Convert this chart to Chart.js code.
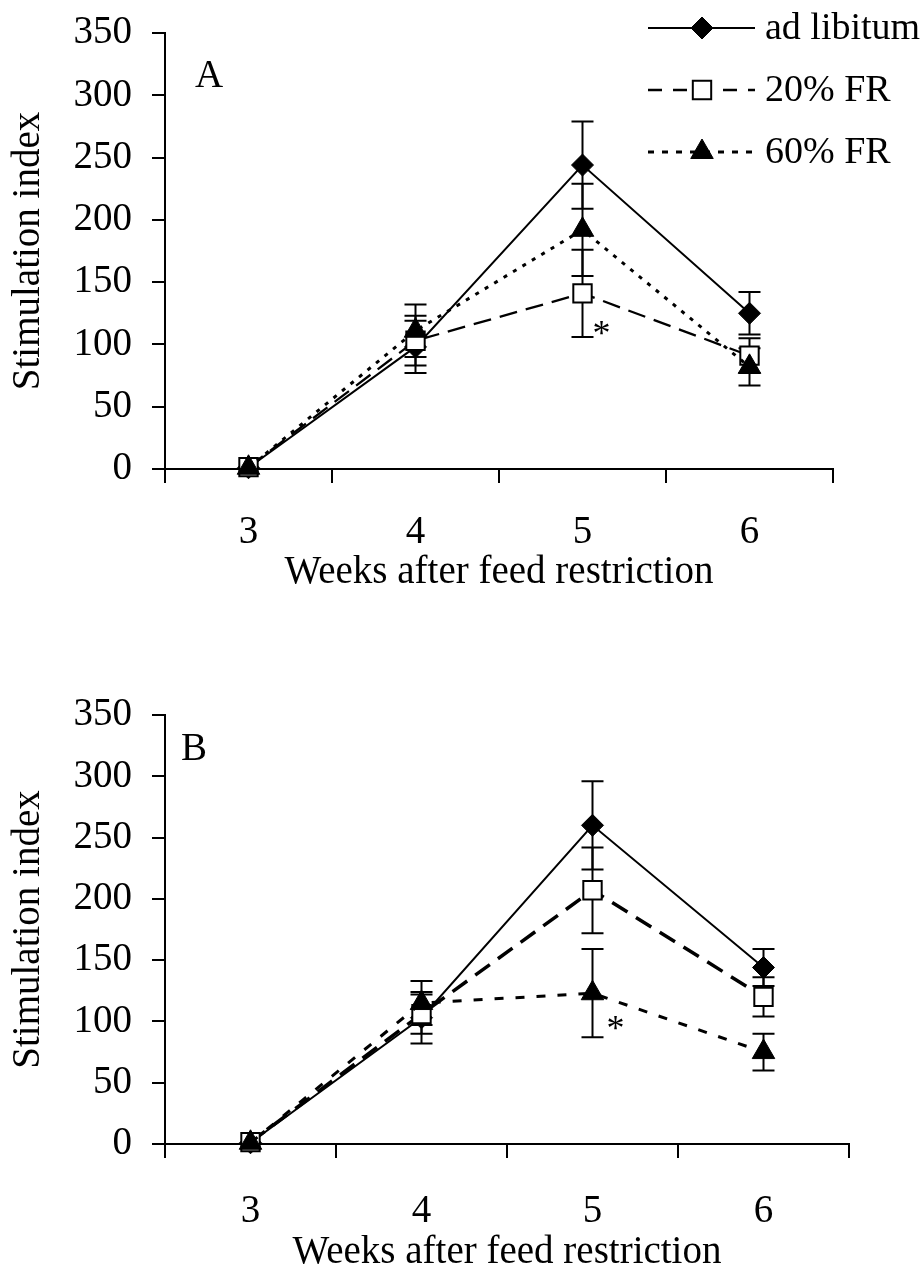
<!DOCTYPE html>
<html>
<head>
<meta charset="utf-8">
<script src="https://cdn.jsdelivr.net/npm/chart.js"></script>
<style>
html,body{margin:0;padding:0;background:#fff;overflow:hidden;width:921px;height:1268px;}
canvas{position:absolute;left:0;}
#cA{top:0;}
#cB{top:634px;}
</style>
</head>
<body>
<canvas id="cA" width="921" height="620"></canvas>
<canvas id="cB" width="921" height="650"></canvas>
<script>
// ---------- data ----------
const weeks = ['3', '4', '5', '6'];
const seriesNames = ['ad libitum', '20% FR', '60% FR'];
const yTickValues = [0, 50, 100, 150, 200, 250, 300, 350];
const xTitle = 'Weeks after feed restriction';
const yTitle = 'Stimulation index';

// Panel A
const adLibA = [1, 98, 244, 125];
const adLibErrA = [0, 21, 35, 17];
const fr20A = [1.5, 103, 141, 91];
const fr20ErrA = [0, 20, 35, 14];
const fr60A = [1, 111, 192, 82];
const fr60ErrA = [0, 21, 37, 15];
const sigA = { week: '5', value: 113 };

// Panel B
const adLibB = [1, 103, 260, 144];
const adLibErrB = [0, 21, 36, 15];
const fr20B = [1.5, 106, 207, 120];
const fr20ErrB = [0, 16, 35, 16];
const fr60B = [1, 115, 123, 75];
const fr60ErrB = [0, 18, 36, 15];
const sigB = { week: '5', value: 99 };

// ---------- styling ----------
const FONT = "'Liberation Serif', 'Times New Roman', serif";
const FS = 39;
const font = { family: FONT, size: FS, lineHeight: 1.2 };

const styles = [
  { borderColor: '#000', borderWidth: 2, borderDash: [], pointStyle: 'rectRot', pointRadius: 11,
    pointBackgroundColor: '#000', pointBorderColor: '#000', pointBorderWidth: 1, order: 3 },
  { borderColor: '#000', borderWidth: 2.3, borderDash: [18, 9], pointStyle: 'rect', pointRadius: 13,
    pointBackgroundColor: '#fff', pointBorderColor: '#000', pointBorderWidth: 2, order: 2 },
  { borderColor: '#000', borderWidth: 3, borderDash: [4, 7], pointStyle: 'triangle', pointRadius: 13,
    pointBackgroundColor: '#000', pointBorderColor: '#000', pointBorderWidth: 1, order: 1 }
];

function makeDataset(i, values, errors, over) {
  return Object.assign({
    label: seriesNames[i],
    data: values,
    errors: errors,
    fill: false,
    tension: 0,
    clip: false,
    pointHoverRadius: styles[i].pointRadius
  }, styles[i], over || {});
}

function marker(ctx, style, x, y) {
  const r = style.pointRadius;
  ctx.save();
  ctx.setLineDash([]);
  ctx.beginPath();
  if (style.pointStyle === 'rectRot') {
    ctx.moveTo(x - r, y); ctx.lineTo(x, y - r); ctx.lineTo(x + r, y); ctx.lineTo(x, y + r);
  } else if (style.pointStyle === 'rect') {
    const s = Math.SQRT1_2 * r;
    ctx.rect(x - s, y - s, 2 * s, 2 * s);
  } else {
    const a = 2 * Math.PI / 3;
    ctx.moveTo(x, y - r);
    ctx.lineTo(x + Math.sin(a) * r, y - Math.cos(a) * r);
    ctx.lineTo(x + Math.sin(2 * a) * r, y - Math.cos(2 * a) * r);
  }
  ctx.closePath();
  ctx.fillStyle = style.pointBackgroundColor;
  ctx.fill();
  ctx.lineWidth = style.pointBorderWidth;
  ctx.strokeStyle = style.pointBorderColor;
  ctx.stroke();
  ctx.restore();
}

const errorBarPlugin = {
  id: 'errorBars',
  beforeDatasetsDraw(chart) {
    const ctx = chart.ctx;
    const ys = chart.scales.y;
    ctx.save();
    ctx.strokeStyle = '#000';
    ctx.lineWidth = 2;
    ctx.setLineDash([]);
    chart.data.datasets.forEach((ds, di) => {
      const meta = chart.getDatasetMeta(di);
      ds.data.forEach((v, i) => {
        const e = ds.errors[i];
        if (!e) return;
        const x = meta.data[i].x;
        const yt = ys.getPixelForValue(v + e);
        const yb = ys.getPixelForValue(v - e);
        ctx.beginPath();
        ctx.moveTo(x, yt); ctx.lineTo(x, yb);
        ctx.moveTo(x - 11, yt); ctx.lineTo(x + 11, yt);
        ctx.moveTo(x - 11, yb); ctx.lineTo(x + 11, yb);
        ctx.stroke();
      });
    });
    ctx.restore();
  }
};

function centeredText(ctx, text, left, cy) {
  const m = ctx.measureText(text);
  const asc = m.actualBoundingBoxAscent, desc = m.actualBoundingBoxDescent;
  ctx.fillText(text, left + m.actualBoundingBoxLeft, cy + (asc - desc) / 2);
}

const annotationPlugin = {
  id: 'annot',
  afterDatasetsDraw(chart, args, opts) {
    const ctx = chart.ctx;
    const ca = chart.chartArea;
    const xs = chart.scales.x, ys = chart.scales.y;
    ctx.save();
    ctx.fillStyle = '#000';
    ctx.font = FS + 'px ' + FONT;
    ctx.textBaseline = 'alphabetic';
    ctx.textAlign = 'left';
    // panel letter
    centeredText(ctx, opts.letter, ca.left + opts.letterDx, ca.top + opts.letterDy);
    // significance star
    ctx.font = (FS - 3) + 'px ' + FONT;
    const sx = xs.getPixelForValue(weeks.indexOf(opts.sig.week)) + opts.sigDx;
    const sy = ys.getPixelForValue(opts.sig.value);
    const m = ctx.measureText('*');
    centeredText(ctx, '*', sx - (m.actualBoundingBoxLeft + m.actualBoundingBoxRight) / 2, sy);
    // legend
    if (opts.legend) {
      const L = opts.legend;
      ctx.font = L.fontSize + 'px ' + FONT;
      chart.data.datasets.forEach((ds, i) => {
        const y = L.rows[i];
        ctx.save();
        ctx.strokeStyle = '#000';
        ctx.lineWidth = ds.borderWidth;
        ctx.setLineDash(L.dash[i]);
        ctx.beginPath();
        ctx.moveTo(L.x0, y); ctx.lineTo(L.x1, y);
        ctx.stroke();
        ctx.restore();
        marker(ctx, ds, L.xm, y);
        ctx.fillStyle = '#000';
        ctx.fillText(ds.label, L.xt, y + L.baseDy);
      });
    }
    ctx.restore();
  }
};

function makePanel(canvasId, sets, P) {
  new Chart(document.getElementById(canvasId), {
    type: 'line',
    data: {
      labels: weeks,
      datasets: sets
    },
    options: {
      responsive: false,
      animation: false,
      events: [],
      layout: { padding: { top: P.top, right: P.right, left: 0, bottom: 0 } },
      plugins: {
        legend: { display: false },
        tooltip: { enabled: false },
        annot: P.annot
      },
      scales: {
        x: {
          type: 'category',
          offset: true,
          afterFit(s) { s.height = P.xh; s.paddingLeft = 0; s.paddingRight = 0; },
          grid: { offset: true, drawOnChartArea: false, drawTicks: true, tickLength: 14, color: '#000', lineWidth: 2 },
          border: { display: true, color: '#000', width: 2 },
          ticks: { color: '#000', font: font, padding: P.xtp, maxRotation: 0, autoSkip: false },
          title: { display: true, text: xTitle, color: '#000', font: font, padding: { top: 0, bottom: P.xtitlePad } }
        },
        y: {
          min: 0,
          max: 350,
          afterFit(s) { s.width = 165; s.paddingTop = 0; s.paddingBottom = 0; },
          afterBuildTicks(s) { s.ticks = yTickValues.map(v => ({ value: v })); },
          grid: { drawOnChartArea: false, drawTicks: true, tickLength: 13, color: '#000', lineWidth: 2 },
          border: { display: true, color: '#000', width: 2 },
          ticks: { color: '#000', font: font, padding: 20 },
          title: { display: true, text: yTitle, color: '#000', font: font, padding: { top: 5, bottom: 0 } }
        }
      }
    },
    plugins: [errorBarPlugin, annotationPlugin]
  });
}

makePanel('cA', [
  makeDataset(0, adLibA, adLibErrA),
  makeDataset(1, fr20A, fr20ErrA),
  makeDataset(2, fr60A, fr60ErrA)
], {
  top: 33, right: 88, xh: 151, xtp: 26, xtitlePad: 24,
  annot: {
    letter: 'A', letterDx: 30, letterDy: 41,
    sig: sigA, sigDx: 19,
    legend: { rows: [28, 90, 152], x0: 648, x1: 755, xm: 702, xt: 765, baseDy: 11, fontSize: 38,
              dash: [[], [14, 11], [6, 8]] }
  }
});

makePanel('cB', [
  makeDataset(0, adLibB, adLibErrB),
  makeDataset(1, fr20B, fr20ErrB, { borderWidth: 3.5, borderDash: [18, 10] }),
  makeDataset(2, fr60B, fr60ErrB, { borderWidth: 3, borderDash: [9, 12] })
], {
  top: 81, right: 72, xh: 140, xtp: 30, xtitlePad: 8,
  annot: {
    letter: 'B', letterDx: 17, letterDy: 32,
    sig: sigB, sigDx: 23,
    legend: null
  }
});
</script>
</body>
</html>
